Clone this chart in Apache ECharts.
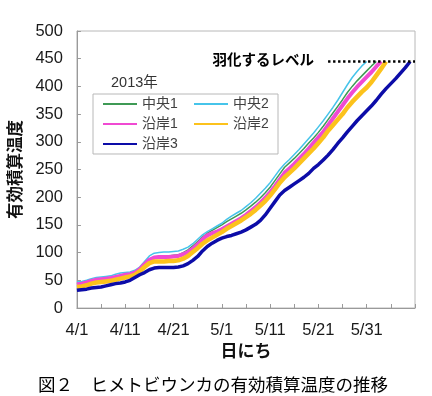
<!DOCTYPE html>
<html>
<head>
<meta charset="utf-8">
<script src="https://cdn.jsdelivr.net/npm/echarts@6/dist/echarts.min.js"></script>
<style>
  html, body { margin: 0; padding: 0; background: #fff; }
  #main { width: 432px; height: 396px; }
</style>
</head>
<body>
<div id="main"></div>
<script>
// data
const monthDays = [['4', 30], ['5', 31], ['6', 10]]
const dates = []
monthDays.forEach(([m, n]) => { for (let d = 1; d <= n; d++) dates.push(m + '/' + d) })

const seriesNames = ['中央1', '中央2', '沿岸1', '沿岸2', '沿岸3']
const chuo1 = [44, 45, 47, 50, 52, 53, 54, 55, 57, 59, 61, 62, 65, 71, 80, 88, 92, 93, 94, 94,
  95, 96, 100, 105, 112, 120, 128, 135, 140, 145, 150, 156, 161, 166, 171, 177, 184, 191, 199, 208,
  218, 230, 242, 254, 262, 270, 279, 288, 298, 307, 317, 328, 340, 352, 364, 376, 389, 400, 410, 419,
  428, 437, 445]
const chuo2 = [47, 48, 50, 53, 55, 56, 57, 58, 61, 63, 64, 65, 68, 74, 84, 94, 99, 100, 101, 101,
  102, 103, 106, 110, 116, 124, 132, 138, 143, 148, 153, 160, 166, 171, 176, 183, 190, 198, 207, 216,
  226, 238, 250, 260, 268, 277, 286, 296, 306, 316, 327, 338, 350, 362, 375, 389, 403, 416, 427, 437,
  445]
const engan1 = [43, 44, 46, 49, 51, 52, 53, 54, 56, 58, 60, 61, 64, 70, 79, 87, 91, 92, 92, 92,
  93, 94, 97, 101, 107, 115, 124, 131, 135, 138, 142, 147, 152, 157, 162, 168, 175, 182, 190, 199,
  209, 220, 232, 244, 252, 260, 269, 278, 288, 298, 308, 318, 330, 342, 354, 366, 378, 389, 399, 408,
  417, 426, 436, 445]
const engan2 = [38, 39, 41, 44, 46, 47, 48, 49, 51, 53, 55, 57, 60, 66, 74, 81, 84, 84, 84, 85,
  85, 86, 89, 94, 101, 108, 116, 122, 127, 132, 137, 143, 148, 153, 158, 164, 170, 177, 185, 193,
  203, 214, 226, 236, 244, 252, 261, 270, 279, 288, 298, 308, 320, 330, 340, 350, 362, 372, 381, 390,
  398, 408, 420, 432, 445]
const engan3 = [32, 33, 34, 36, 37, 38, 40, 42, 44, 45, 47, 50, 55, 60, 64, 69, 72, 73, 73, 73,
  73, 74, 76, 80, 86, 93, 103, 111, 117, 122, 126, 129, 131, 134, 137, 141, 146, 151, 158, 168,
  180, 192, 204, 212, 218, 224, 230, 236, 243, 252, 259, 267, 276, 286, 297, 307, 318, 328, 338, 347,
  356, 365, 375, 386, 396, 405, 414, 424, 434, 445]
const yTicks = { min: 0, max: 500, interval: 50 }
const emergenceLevel = 445
const levelFrom = '5/23'
const levelTo = '6/10'

const lineColors = ['#3f9a55', '#46c4ea', '#f04ad2', '#fcc21c', '#0c0ca8']
const lineWidths = [1.5, 1.5, 4, 4.5, 3.5]
const valueLists = [chuo1, chuo2, engan1, engan2, engan3]

const FONT = '"Liberation Sans", "Noto Sans CJK JP", sans-serif'

const chart = echarts.init(document.getElementById('main'))

const series = seriesNames.map((name, i) => ({
  name: name,
  type: 'line',
  data: valueLists[i],
  symbol: 'none',
  showSymbol: false,
  color: lineColors[i],
  lineStyle: { width: lineWidths[i], color: lineColors[i] }
}))

// 羽化するレベル（点線）
series[4].markLine = {
  silent: true,
  symbol: ['none', 'none'],
  lineStyle: { color: '#000', type: [2.4, 2.6], width: 2.5 },
  label: {
    show: true,
    position: 'start',
    distance: 14,
    formatter: '羽化するレベル',
    color: '#000',
    fontSize: 14.5,
    fontWeight: 'bold',
    fontFamily: FONT
  },
  data: [[{ coord: [levelFrom, emergenceLevel] }, { coord: [levelTo, emergenceLevel] }]]
}

chart.setOption({
  animation: false,
  backgroundColor: '#fff',
  title: [
    {
      text: '2013年',
      left: 106, top: 71,
      textStyle: { fontSize: 14.5, fontWeight: 'normal', color: '#333', fontFamily: FONT }
    },
    {
      text: '図２　ヒメトビウンカの有効積算温度の推移',
      left: 33, top: 372,
      textStyle: { fontSize: 17.5, fontWeight: 'normal', color: '#000', fontFamily: FONT }
    }
  ],
  legend: {
    data: seriesNames,
    left: 93, top: 94,
    width: 180,
    padding: [3, 0, 3, 9],
    itemGap: 6,
    itemWidth: 34,
    itemHeight: 11,
    borderColor: '#b8b8b8',
    borderWidth: 1,
    itemStyle: { color: 'rgba(0,0,0,0)', borderWidth: 0 },
    textStyle: { fontSize: 14, color: '#404040', width: 45, lineHeight: 11, fontFamily: FONT }
  },
  grid: {
    left: 75, right: 17, top: 31, bottom: 88,
    show: true, borderColor: '#b8b8b8', borderWidth: 1
  },
  xAxis: {
    type: 'category',
    data: dates,
    boundaryGap: false,
    name: '日にち',
    nameLocation: 'middle',
    nameGap: 34,
    nameTextStyle: { fontSize: 17, fontWeight: 'bold', color: '#111', fontFamily: FONT },
    axisLine: { lineStyle: { color: '#9a9a9a' } },
    axisTick: { interval: 4, inside: true, length: 4, lineStyle: { color: '#9a9a9a' } },
    axisLabel: {
      interval: 9, margin: 14, fontSize: 16.5, color: '#1a1a1a', fontFamily: FONT,
      formatter: (v, i) => (i < dates.length - 1 ? v : '')
    },
    splitLine: { show: false }
  },
  yAxis: {
    type: 'value',
    min: yTicks.min, max: yTicks.max, interval: yTicks.interval,
    name: '有効積算温度',
    nameLocation: 'middle',
    nameRotate: 90,
    nameGap: 46,
    nameTextStyle: { fontSize: 16.5, fontWeight: 'bold', color: '#111', fontFamily: FONT },
    axisLine: { show: true, lineStyle: { color: '#9a9a9a' } },
    axisTick: { show: true, inside: true, length: 4, lineStyle: { color: '#9a9a9a' } },
    axisLabel: { margin: 14, fontSize: 16.5, color: '#1a1a1a', fontFamily: FONT },
    splitLine: { show: false }
  },
  series: series
})
</script>
</body>
</html>
